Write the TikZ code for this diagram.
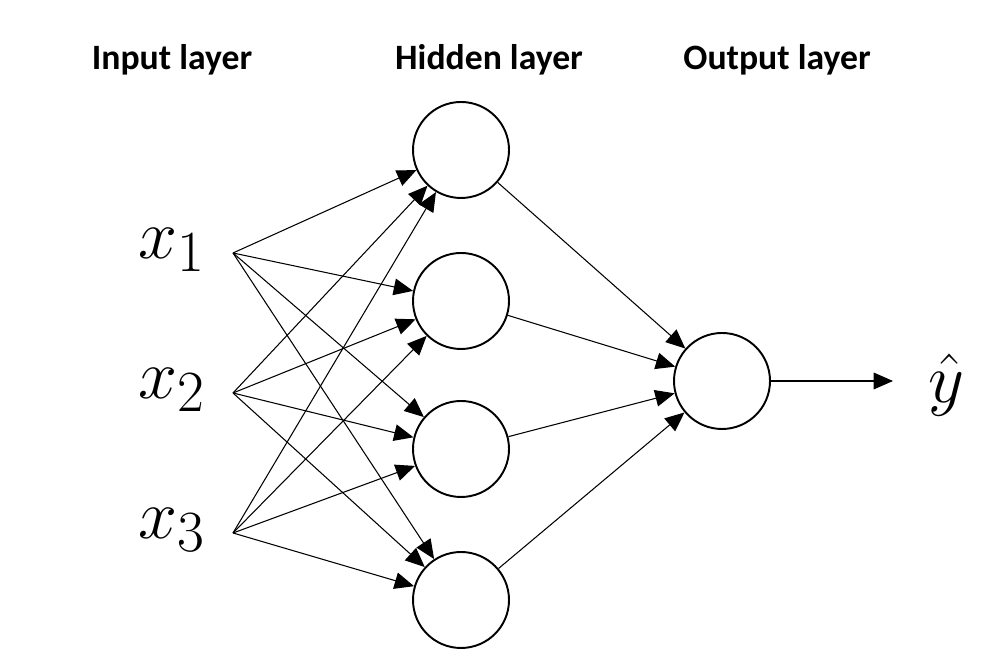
\documentclass[tikz,border=0pt]{standalone}
\usepackage{fontspec}
\setmainfont{Carlito}
\usetikzlibrary{arrows.meta}
\begin{document}
\begin{tikzpicture}[
 neuron/.style={circle, draw, line width=1.1pt, minimum size=1.92cm, inner sep=0pt},
 layer/.style={font=\fontsize{20.3}{24}\selectfont\bfseries},
 var/.style={font=\fontsize{24.88}{30}\selectfont, scale=1.6},
 arr/.style={-{Triangle[length=11pt, width=9.5pt]}, line width=0.6pt},
]
\useasboundingbox (0,0) rectangle (20.04,13.32);
\node[layer] (inlbl) at (3.44,12.12) {Input layer};
\node[layer] (hidlbl) at (9.78,12.12) {Hidden layer};
\node[layer] (outlbl) at (15.54,12.12) {Output layer};

\node[var] (x1) at (3.44,8.32) {$x_1$};
\node[var] (x2) at (3.44,5.52) {$x_2$};
\node[var] (x3) at (3.44,2.72) {$x_3$};
\coordinate (in1) at (4.66,8.26);
\coordinate (in2) at (4.66,5.46);
\coordinate (in3) at (4.66,2.66);

\node[neuron] (h1) at (9.22,10.32) {};
\node[neuron] (h2) at (9.22,7.30) {};
\node[neuron] (h3) at (9.22,4.34) {};
\node[neuron] (h4) at (9.22,1.32) {};
\node[neuron] (out) at (14.44,5.70) {};
\coordinate (yend) at (17.86,5.70);
\node[var] (yhat) at (18.92,5.62) {$\hat{y}$};

\draw[arr] (in1) -- (h1);
\draw[arr] (in1) -- (h2);
\draw[arr] (in1) -- (h3);
\draw[arr] (in1) -- (h4);
\draw[arr] (in2) -- (h1);
\draw[arr] (in2) -- (h2);
\draw[arr] (in2) -- (h3);
\draw[arr] (in2) -- (h4);
\draw[arr] (in3) -- (h1);
\draw[arr] (in3) -- (h2);
\draw[arr] (in3) -- (h3);
\draw[arr] (in3) -- (h4);

\draw[arr] (h1) -- (out);
\draw[arr] (h2) -- (out);
\draw[arr] (h3) -- (out);
\draw[arr] (h4) -- (out);
\draw[arr] (out) -- (yend);
\end{tikzpicture}
\end{document}
